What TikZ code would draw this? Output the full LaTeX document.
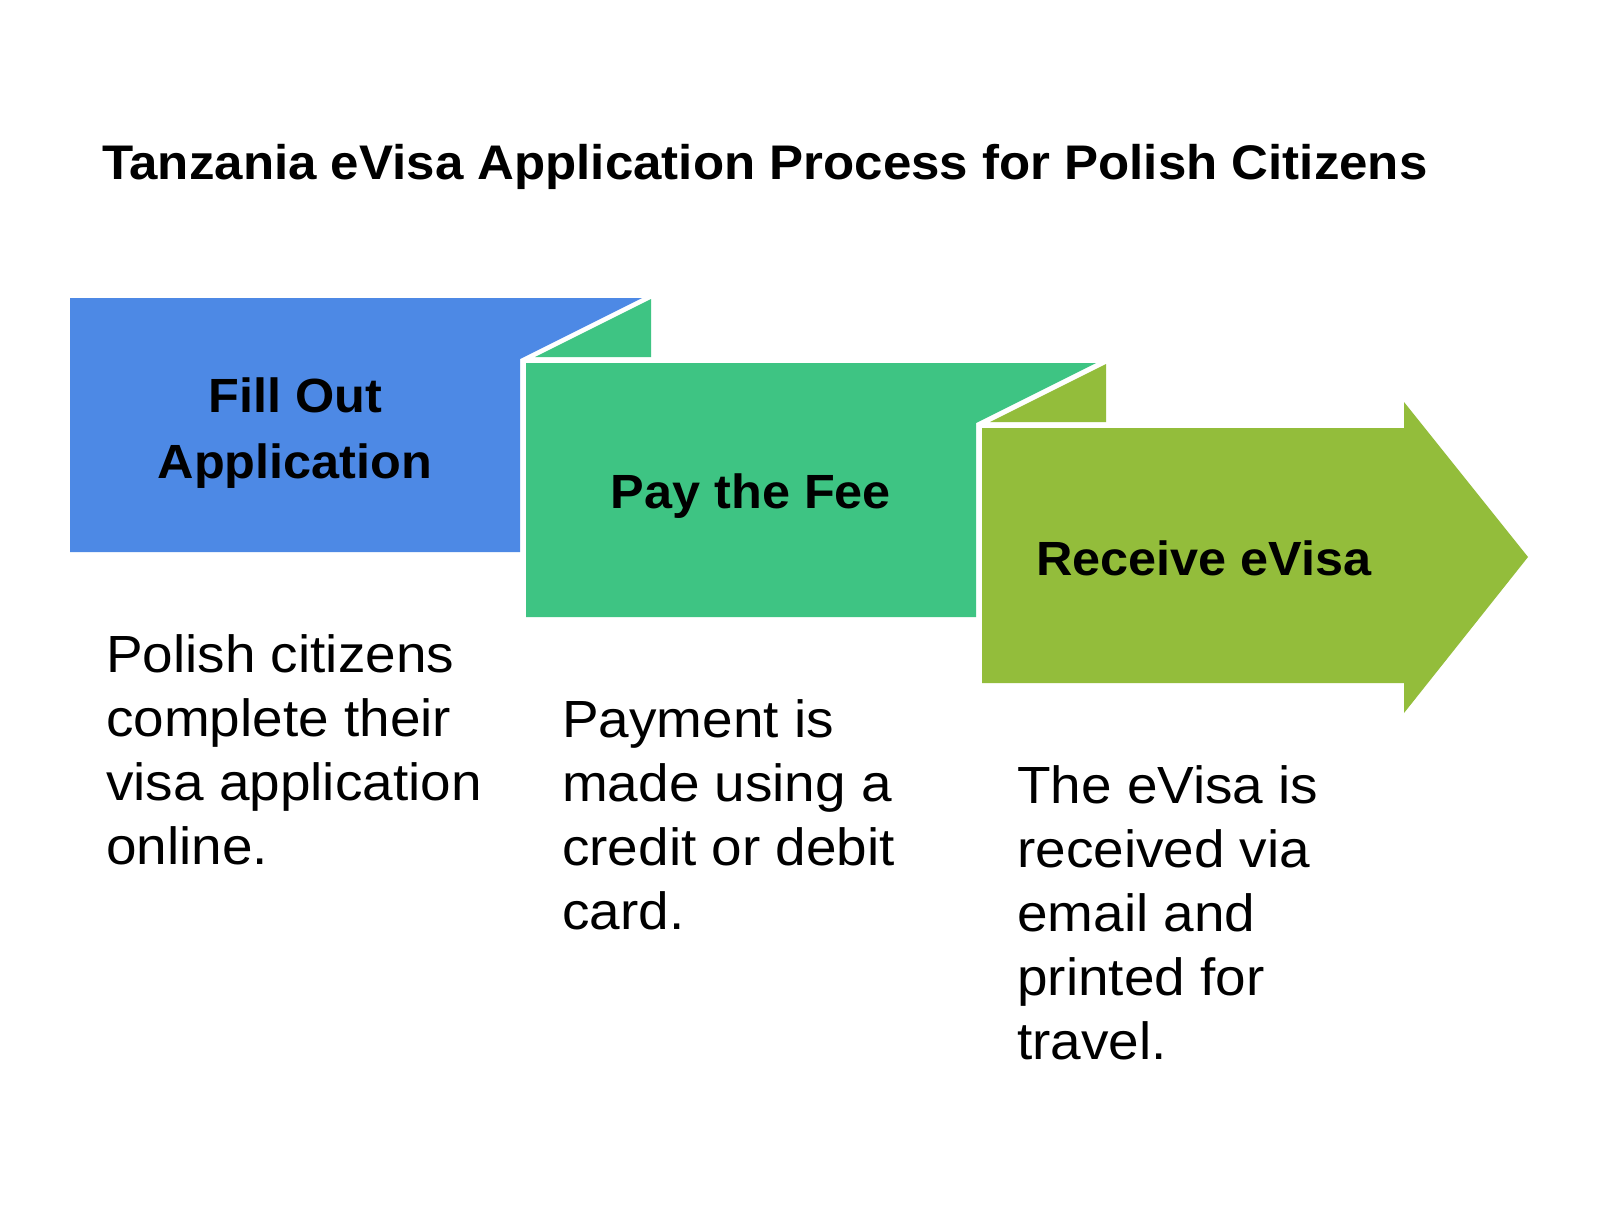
\documentclass[tikz,border=0pt]{standalone}
\usepackage{fontspec}
\setmainfont[FakeStretch=1.05]{Liberation Sans}
\definecolor{blueA}{RGB}{77,137,229}
\definecolor{greenA}{RGB}{62,196,131}
\definecolor{limeA}{RGB}{147,189,59}
\tikzset{
  titletext/.style={anchor=base west, inner sep=0pt, font=\bfseries\fontsize{48.6}{58}\selectfont},
  headtext/.style={anchor=base, align=center, inner sep=0pt, font=\bfseries\fontsize{48}{66}\selectfont},
  bodytext/.style={anchor=base west, align=left, inner sep=0pt, font=\fontsize{52.3}{64}\selectfont},
}
\begin{document}
\begin{tikzpicture}[x=1pt,y=-1pt]
\useasboundingbox (0,0) rectangle (1600,1209);
\fill[white] (0,0) rectangle (1600,1209);
% step 1
\fill[blueA] (70,298) -- (642,298) -- (520,359) -- (520,552) -- (70,552) -- cycle;
% step 2
\fill[greenA] (651,299) -- (651,357) -- (535,357) -- cycle;
\fill[greenA] (526,363) -- (1096,363) -- (976,423) -- (976,617) -- (526,617) -- cycle;
% step 3
\fill[limeA] (1106,364) -- (1106,422) -- (990,422) -- cycle;
\fill[limeA] (982,428) -- (1404,428) -- (1404,402) -- (1528,557) -- (1404,713) -- (1404,683) -- (982,683) -- cycle;
% texts (base anchor of a multi-line node = baseline of its last line)
\node[titletext] (title) at (102,180) {Tanzania eVisa Application Process for Polish Citizens};
\node[headtext] (h1) at (295,478) {Fill Out\\Application};
\node[headtext] (h2) at (751,508) {Pay the Fee};
\node[headtext] (h3) at (1204,575) {Receive eVisa};
\node[bodytext] (b1) at (106,864) {Polish citizens\\complete their\\visa application\\online.};
\node[bodytext] (b2) at (562,929) {Payment is\\made using a\\credit or debit\\card.};
\node[bodytext] (b3) at (1017,1059) {The eVisa is\\received via\\email and\\printed for\\travel.};
\end{tikzpicture}
\end{document}
